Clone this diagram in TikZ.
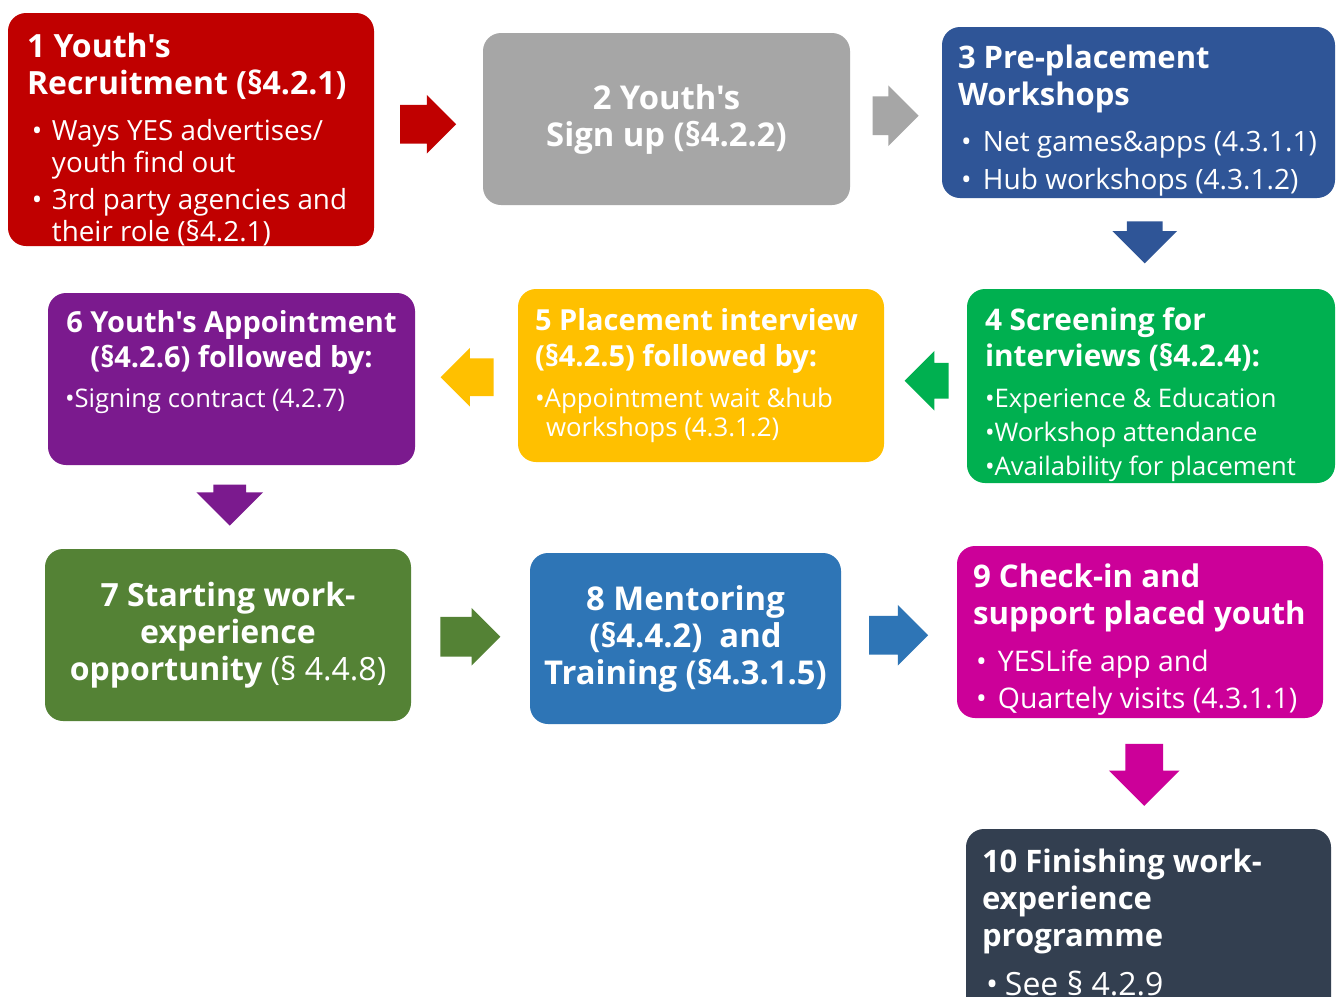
\documentclass[tikz,border=0pt]{standalone}
\usepackage{fontspec}
\setmainfont{Open Sans}[Ligatures=TeXOff]
\usetikzlibrary{shapes.arrows,calc}
\definecolor{cRed}{HTML}{C00000}
\definecolor{cGray}{HTML}{A6A6A6}
\definecolor{cNavy}{HTML}{2F5597}
\definecolor{cGreen}{HTML}{00B050}
\definecolor{cAmber}{HTML}{FFC000}
\definecolor{cPurple}{HTML}{7B1A8E}
\definecolor{cOlive}{HTML}{548235}
\definecolor{cBlue}{HTML}{2E75B6}
\definecolor{cMagenta}{HTML}{CC0099}
\definecolor{cSlate}{HTML}{333F50}
\newcommand{\tf}[2]{\fontsize{#1}{#2}\selectfont\bfseries}
\newcommand{\rf}[2]{\fontsize{#1}{#2}\selectfont}
\newcommand{\bul}[1]{\makebox[#1][l]{\textbullet}}
\tikzset{
  stepbox/.style={fill=#1, rounded corners=9pt, inner sep=0pt},
  blockarrow/.style args={#1/#2/#3}{single arrow, fill=#1, inner xsep=0pt, inner ysep=#2,
    single arrow head extend=#3},
  txt/.style={text=white, inner sep=0pt, align=left, anchor=north west},
  ctxt/.style={text=white, inner sep=0pt, align=center}
}
\begin{document}
\begin{tikzpicture}[x=0.5pt, y=-0.5pt]
  \clip (0,0) rectangle (1341,997);
  \fill[white] (0,0) rectangle (1341,997);
  % boxes
  \node[stepbox=cRed, minimum width=183pt, minimum height=116.5pt] (b1) at (191,129.5) {};
  \node[stepbox=cGray, minimum width=183.5pt, minimum height=86pt] (b2) at (666.5,119) {};
  \node[stepbox=cNavy, minimum width=196.5pt, minimum height=85.5pt] (b3) at (1138.5,112.5) {};
  \node[stepbox=cGreen, minimum width=184pt, minimum height=97pt] (b4) at (1151,386) {};
  \node[stepbox=cAmber, minimum width=183pt, minimum height=86.5pt] (b5) at (701,375.5) {};
  \node[stepbox=cPurple, minimum width=183.5pt, minimum height=86pt] (b6) at (231.5,379) {};
  \node[stepbox=cOlive, minimum width=183pt, minimum height=86pt] (b7) at (228,635) {};
  \node[stepbox=cBlue, minimum width=155.5pt, minimum height=85.5pt] (b8) at (685.5,638.5) {};
  \node[stepbox=cMagenta, minimum width=183pt, minimum height=86pt] (b9) at (1140,632) {};
  \node[stepbox=cSlate, minimum width=182.5pt, minimum height=100.5pt] (b10) at (1148.5,929.5) {};
  % texts
  \node[txt, font=\tf{16}{18.5}] (t1) at ($(b1.north west)+(19,20)$) {1 Youth's\\Recruitment (§4.2.1)};
  \node[txt, font=\rf{13.9}{16}] (l1) at ($(b1.north west)+(24,106)$)
    {\bul{10pt}Ways YES advertises/\\\hspace*{10pt}youth find out\\[2.5pt]
     \bul{10pt}3rd party agencies and\\\hspace*{10pt}their role (§4.2.1)};
  \node[ctxt, font=\tf{16.4}{18.5}] (t2) at (b2.center) {2 Youth's\\Sign up (§4.2.2)};
  \node[txt, font=\tf{15.5}{18.5}] (t3) at ($(b3.north west)+(16,18)$) {3 Pre-placement\\Workshops};
  \node[txt, font=\rf{14}{19}] (l3) at ($(b3.north west)+(19,104)$)
    {\bul{11pt}Net games\&apps (4.3.1.1)\\\bul{11pt}Hub workshops (4.3.1.2)};
  \node[txt, font=\tf{14.9}{18}] (t4) at ($(b4.north west)+(18,19)$) {4 Screening for\\interviews (§4.2.4):};
  \node[txt, font=\rf{12.8}{17}] (l4) at ($(b4.north west)+(18,99)$)
    {\textbullet Experience \& Education\\\textbullet Workshop attendance\\\textbullet Availability for placement};
  \node[txt, font=\tf{14.5}{18}] (t5) at ($(b5.north west)+(17,19)$) {5 Placement interview\\(§4.2.5) followed by:};
  \node[txt, font=\rf{12.9}{14.5}] (l5) at ($(b5.north west)+(17,99)$)
    {\textbullet Appointment wait \&hub\\\hspace*{5.5pt}workshops (4.3.1.2)};
  \node[ctxt, font=\tf{14.5}{17.5}, anchor=north] (t6) at ($(b6.north)+(0,17)$) {6 Youth's Appointment\\(§4.2.6) followed by:};
  \node[txt, font=\rf{12.8}{14}] (l6) at ($(b6.north west)+(17,96)$) {\textbullet Signing contract (4.2.7)};
  \node[ctxt, font=\tf{16}{18.5}] (t7) at (b7.center) {7 Starting work-\\experience\\opportunity {\mdseries(§ 4.4.8)}};
  \node[ctxt, font=\tf{16.4}{18.5}] (t8) at (b8.center) {8 Mentoring\\(§4.4.2)\ \ and\\Training (§4.3.1.5)};
  \node[txt, font=\tf{15.6}{18.5}] (t9) at ($(b9.north west)+(16,18)$) {9 Check-in and\\support placed youth};
  \node[txt, font=\rf{14.2}{18.5}] (l9) at ($(b9.north west)+(19,104)$)
    {\bul{11pt}YESLife app and\\\bul{11pt}Quartely visits (4.3.1.1)};
  \node[txt, font=\tf{15.5}{18.5}] (t10) at ($(b10.north west)+(16,20)$) {10 Finishing work-\\experience\\programme};
  \node[txt, font=\rf{16}{18}] (l10) at ($(b10.north west)+(20,142)$) {\bul{9.5pt}See § 4.2.9};
  % arrows
  \node[blockarrow=cRed/9.5pt/5pt, minimum height=28pt] (a12) at ($(b1.east)!0.5!(b2.west)+(-10,0)$) {};
  \node[blockarrow=cGray/9.5pt/5.5pt, minimum height=23pt] (a23) at ($(b2.east)!0.5!(b3.west)+(-10,0)$) {};
  \node[blockarrow=cNavy/8.75pt/7.25pt, minimum height=21pt, rotate=-90] (a34) at ($(b3.south)!0.5!(b4.north)+(0,-10)$) {};
  \node[blockarrow=cGreen/8.75pt/6pt, minimum height=22pt, rotate=180] (a45) at ($(b4.west)!0.5!(b5.east)+(10,0)$) {};
  \node[blockarrow=cAmber/9.25pt/5.25pt, minimum height=26.5pt, rotate=180] (a56) at ($(b5.west)!0.5!(b6.east)+(10,0)$) {};
  \node[blockarrow=cPurple/8pt/8.5pt, minimum height=20.5pt, rotate=-90] (a67) at ($(b6.south)!0.5!(b7.north)+(0,-10)$) {};
  \node[blockarrow=cOlive/9.75pt/4.5pt, minimum height=30pt] (a78) at ($(b7.east)!0.5!(b8.west)+(-10,0)$) {};
  \node[blockarrow=cBlue/9.5pt/5.5pt, minimum height=29.5pt] (a89) at ($(b8.east)!0.5!(b9.west)+(-10,0)$) {};
  \node[blockarrow=cMagenta/9.25pt/8.25pt, minimum height=31pt, rotate=-90] (a910) at ($(b9.south)!0.5!(b10.north)+(0,-8)$) {};
\end{tikzpicture}
\end{document}
